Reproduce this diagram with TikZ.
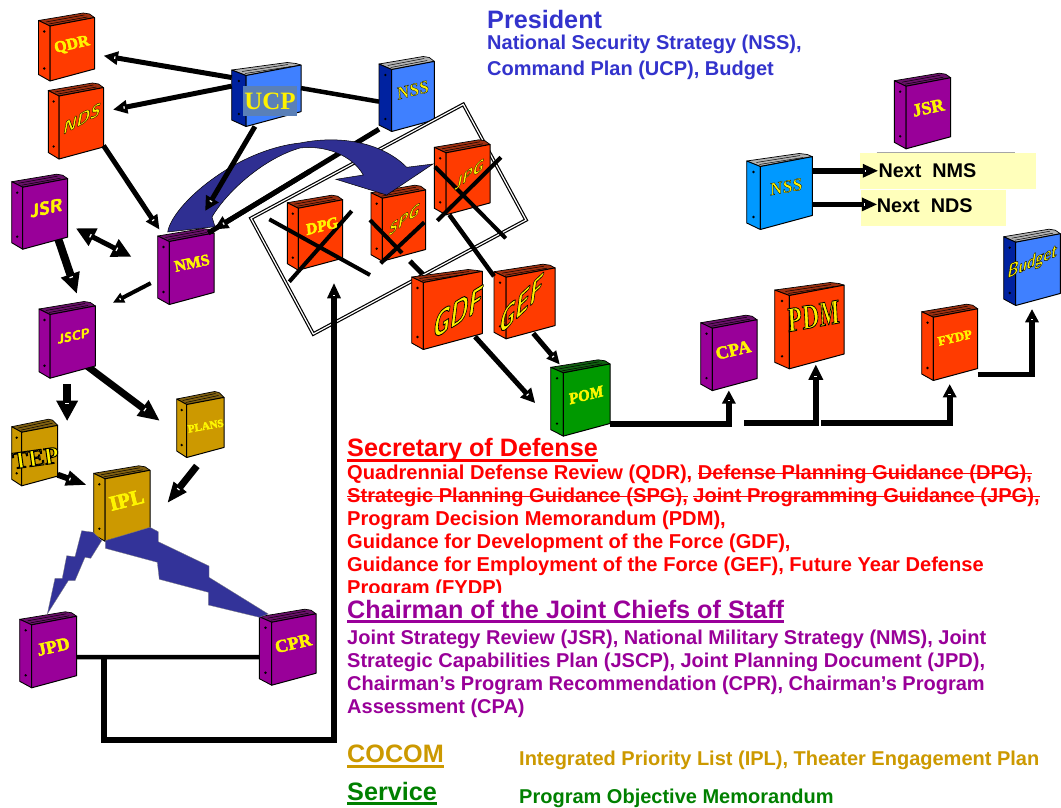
\documentclass[tikz,border=0pt]{standalone}
\usepackage{fontspec}
\usepackage{tikz}
\usetikzlibrary{arrows.meta}
\setmainfont{Liberation Sans}
\newfontfamily\bookserif{Liberation Serif}
\definecolor{bookorange}{HTML}{FF3B00}
\definecolor{orangepage}{HTML}{A03010}
\definecolor{bookpurple}{HTML}{990099}
\definecolor{purplepage}{HTML}{6A106A}
\definecolor{bookblue}{HTML}{3F80FF}
\definecolor{bluespine}{HTML}{0022A0}
\definecolor{bookcyan}{HTML}{0099FF}
\definecolor{bookgold}{HTML}{CC9900}
\definecolor{goldpage}{HTML}{806010}
\definecolor{bookgreen}{HTML}{009900}
\definecolor{greenpage}{HTML}{106010}
\definecolor{flashblue}{HTML}{333399}
\definecolor{curveblue}{HTML}{2F2F92}
\definecolor{presblue}{HTML}{3333CC}
\definecolor{servgreen}{HTML}{008000}
\definecolor{notepaper}{HTML}{FFFFBB}
\definecolor{ucpgrey}{HTML}{5A80B8}
\pgfdeclarelayer{bg}
\pgfdeclarelayer{back}
\pgfsetlayers{bg,back,main}
% arrow head with a white mark near its base
\pgfdeclarearrow{
    name=Notched,
    parameters={\the\pgfarrowlength,\the\pgfarrowwidth},
    setup code={
        \pgfarrowssettipend{\pgfarrowlength}
        \pgfarrowssetlineend{1pt}
        \pgfarrowssetvisualbackend{0pt}
        \pgfarrowssetbackend{0pt}
        \pgfarrowssavethe\pgfarrowlength
        \pgfarrowssavethe\pgfarrowwidth
    },
    drawing code={
        \pgfpathmoveto{\pgfqpoint{0pt}{.5\pgfarrowwidth}}
        \pgfpathlineto{\pgfqpoint{\pgfarrowlength}{0pt}}
        \pgfpathlineto{\pgfqpoint{0pt}{-.5\pgfarrowwidth}}
        \pgfpathclose
        \pgfusepathqfill
        \pgfsetfillcolor{white}
        \pgfpathrectangle{\pgfqpoint{2.4pt}{-.09\pgfarrowwidth}}{\pgfqpoint{1.2pt}{.18\pgfarrowwidth}}
        \pgfusepathqfill
    },
    defaults={length=14pt,width=14pt}
}
% text with a black rim
\newcommand{\rim}[2]{\special{pdf:code 2 Tr #1 w 0 0 0 RG}#2\special{pdf:code 0 Tr}}
% text made a little heavier
\newcommand{\fat}[2]{\special{pdf:code 2 Tr #1 w 1 1 0 RG}#2\special{pdf:code 0 Tr}}
% text with a line through it
\newcommand{\strike}[1]{\leavevmode\setbox0=\hbox{#1}\rlap{\rule[5.6pt]{\wd0}{1.4pt}}\box0\relax}
% name, left, top, spine width, front width, height, front, spine, pages
\newcommand{\binder}[9]{
    \filldraw[#9, draw=black, line width=.7pt, line join=round] (#2,#3) -- ({#2+.8*(#4+#5)},{#3-7.5}) -- ({#2+#4+#5-5},{#3-6.5}) -- ({#2+#4+#5},{#3+5.5-.19*#5}) -- ({#2+#4},{#3+5.5}) -- cycle;
    \draw[black, line width=.5pt] ({#2+#4-4},{#3+1.5}) -- ({#2+.8*(#4+#5)+1},{#3-5.5});
    \draw[black, line width=.5pt] ({#2+#4-1},{#3+3.5}) -- ({#2+.8*(#4+#5)+4},{#3-3.5});
    \filldraw[#8, draw=black, line width=.9pt, line join=round] (#2,#3) -- ({#2+#4},{#3+5.5}) -- ({#2+#4},{#3+5.5+#6}) -- (#2,{#3+#6-1}) -- cycle;
    \filldraw[#7, draw=black, line width=1pt, line join=round] ({#2+#4},{#3+5.5}) -- ({#2+#4+#5},{#3+5.5-.19*#5}) -- ({#2+#4+#5},{#3+5.5+#6-.27*#5}) -- ({#2+#4},{#3+5.5+#6}) -- cycle;
    \fill[black] ({#2+#4/2},{#3+11}) circle (1.3);
    \fill[black] ({#2+#4/2},{#3+#6-7}) circle (1.3);
    \node[bookbox, minimum width={(#4+#5)*1pt}, minimum height={(#6+8.5)*1pt}] (#1) at ({#2+(#4+#5)/2},{#3+1.25+#6/2}) {};
}
\tikzset{
    bookbox/.style={inner sep=0, outer sep=0, draw=none},
    rmtxt/.style={text=yellow, inner sep=0, font=\bookserif\bfseries\fontsize{#1}{#1}\selectfont},
    itxt/.style={text=yellow, inner sep=0, font=\bookserif\bfseries\itshape\fontsize{#1}{#1}\selectfont},
    sftxt/.style={text=yellow, inner sep=0, font=\sffamily\bfseries\itshape\fontsize{#1}{#1}\selectfont},
    arr/.style n args={3}{line width=#1pt, ->, >={Notched[length=#2pt,width=#3pt]}},
    plain/.style={line width=#1pt},
    stroke/.style={line width=4pt, black},
    head/.style={inner sep=0, anchor=north west, text height=18pt, text depth=3pt, font=\bfseries\fontsize{25.2}{25.2}\selectfont, text=#1},
    body/.style={inner sep=0, anchor=north west, align=left, font=\bfseries\fontsize{20}{23}\selectfont, text=#1}
}
\begin{document}
\begin{tikzpicture}[x=1pt, y=-1pt]
    \useasboundingbox (0,0) rectangle (1061,808);
    \begin{pgfonlayer}{bg}
        \fill[white] (0,0) rectangle (1061,808);
    \end{pgfonlayer}

    % notes on the right
    \node[fill=notepaper, minimum width=175.7pt, minimum height=36pt, inner sep=0] (nextnmsbox) at (947.85,171.3) {};
    \node[fill=notepaper, minimum width=144.7pt, minimum height=35.7pt, inner sep=0] (nextndsbox) at (933.35,207.85) {};
    \draw[gray!70, line width=.7pt] (876.7,152.3) -- (1015,152.3);

    % frame round the old guidance
    \coordinate (frametl) at (251,218.3);
    \coordinate (frametr) at (463.3,104.3);
    \coordinate (framebr) at (526,220);
    \coordinate (framebl) at (313.3,334);

    % books
    \binder{qdr}{38.5}{20.5}{11.5}{44.5}{55}{bookorange}{bookorange}{orangepage}
    \binder{nds}{48.3}{90.5}{10.7}{44.5}{63}{bookorange}{bookorange}{orangepage}
    \binder{ucp}{231.7}{70}{14.3}{55}{51}{bookblue}{bluespine}{gray!60}
    \binder{nsstop}{379}{64}{12.7}{42.6}{62}{bookblue}{bluespine}{gray!60}
    \binder{jsrleft}{11.7}{181.7}{11}{45}{62}{bookpurple}{bookpurple}{purplepage}
    \binder{nms}{157.7}{236}{11.6}{44.7}{63}{bookpurple}{bookpurple}{purplepage}
    \binder{jscp}{39}{309}{11}{45.3}{63.7}{bookpurple}{bookpurple}{purplepage}
    \binder{plans}{176.7}{399}{10}{37.3}{53}{bookgold}{bookgold}{goldpage}
    \binder{tep}{11.7}{426.7}{10}{36}{53.6}{bookgold}{bookgold}{goldpage}
    \binder{ipl}{93.7}{473.3}{11.3}{45}{62.4}{bookgold}{bookgold}{goldpage}
    \binder{jpd}{19.7}{619.3}{12}{45}{63}{bookpurple}{bookpurple}{purplepage}
    \binder{cpr}{259.3}{616.7}{12.4}{44.3}{63}{bookpurple}{bookpurple}{purplepage}
    \binder{cpa}{700.7}{322.7}{11.6}{44.7}{62.4}{bookpurple}{bookpurple}{purplepage}
    \binder{pdm}{774.7}{290}{14.6}{54.7}{73.3}{bookorange}{bookorange}{orangepage}
    \binder{fydp}{921.7}{311.7}{11.6}{44.4}{63.3}{bookorange}{bookorange}{orangepage}
    \binder{budget}{1003.7}{236.7}{12}{44.6}{63.3}{bookblue}{bluespine}{gray!60}
    \binder{jsrtop}{894.3}{80.7}{11.7}{44.7}{62.6}{bookpurple}{bookpurple}{purplepage}
    \binder{nssright}{746.7}{161}{13.6}{52}{63}{bookcyan}{bookcyan}{gray!60}

    % lines that pass behind the frame and the curve
    \draw[plain=5] (nsstop.230) -- (nms.58);
    \draw[double=white, double distance=1.2pt, line width=1.2pt, draw=black] (frametl) -- (frametr) -- (framebr) -- (framebl) -- cycle;
    \draw[plain=4.5] (ucp.14) -- (nsstop.191);

    % books inside the frame, and those below it
    \binder{dpg}{287.3}{202.7}{11}{44.4}{62}{bookorange}{bookorange}{orangepage}
    \binder{spg}{371}{192.7}{11.3}{43.4}{63}{bookorange}{bookorange}{orangepage}
    \binder{jpg}{434.3}{147.3}{11.7}{44}{62}{bookorange}{bookorange}{orangepage}
    \binder{gdf}{411.7}{277}{11.6}{59}{67}{bookorange}{bookorange}{orangepage}
    \binder{gef}{494}{271.7}{12}{49}{61.6}{bookorange}{bookorange}{orangepage}
    \binder{pom}{550.7}{367.3}{12.6}{46.7}{63.3}{bookgreen}{bookgreen}{greenpage}

    % the curved arrow
    \filldraw[curveblue, draw=black, line width=.5pt] (167.7,232) .. controls (172,205) and (235,150) .. (300,143) .. controls (345,134) and (385,145) .. (406.7,167.3) -- (433,164) -- (386.7,195) -- (336,179.3) -- (363.3,175) .. controls (352,155) and (325,145) .. (300,148) .. controls (265,158) and (228,190) .. (212,217) -- (215,226.7) -- cycle;

    % flashes from the priority list
    \filldraw[flashblue, draw=black!50, line width=.3pt] (81.7,530.7) -- (93.3,532.3) -- (101.7,540.7) -- (90.7,558.3) -- (85,557.3) -- (75,580.7) -- (68.3,580.7) -- (47.3,614) -- (55,578.3) -- (62.3,578.3) -- (66.7,555.7) -- (75,556.7) -- cycle;
    \filldraw[flashblue, draw=black!50, line width=.3pt] (150,527.3) -- (158.3,531.7) -- (158.3,541.7) -- (209,566) -- (209,577.3) -- (268.3,614) -- (259.3,617.3) -- (208.3,605) -- (208.3,592.3) -- (159.3,579.3) -- (157.3,562.3) -- (105.3,548.3) -- (105.3,540.7) -- cycle;

    % crosses
    \draw[stroke] (269.3,219.3) -- (370,275);
    \draw[stroke] (351.7,211) -- (289.3,281.7);
    \draw[stroke] (370,220) -- (402,253);
    \draw[stroke] (424.3,222.3) -- (380.7,263.3);
    \draw[stroke] (435,166.7) -- (505.7,238.3);
    \draw[stroke] (501,157.3) -- (437.3,220.7);

    % connectors
    \begin{pgfonlayer}{back}
        \draw[arr={8}{20}{20}, shorten <=-11.6pt, shorten >=13.4pt] (jsrleft.-58) -- (jscp.69);
        \draw[arr={7}{21}{20}, shorten <=-11.6pt, shorten >=21.7pt] (jscp.-47) -- (plans.196);
        \draw[arr={5}{14}{15}, shorten <=-10.8pt, shorten >=23.4pt] (gdf.-43) -- (pom.214);
        \draw[arr={5}{13}{13}, shorten <=-7.2pt] (gef.-69) -- (pom.120);
    \end{pgfonlayer}
    \draw[arr={5}{14}{14}, shorten >=9.6pt] (ucp.151) -- (qdr.-10);
    \draw[arr={5}{14}{14}, shorten >=10pt] (ucp.163) -- (nds.23);
    \draw[arr={5}{14}{15}, shorten >=25.9pt] (ucp.249) -- (nms.80.5);
    \draw[arr={5}{14}{14}, shorten >=4.4pt] (nds.-39) -- (nms.124);
    \draw[arr={5}{14}{14}, shorten >=7pt, shorten <=80pt] (nsstop.230) -- (nms.58);
    \draw[arr={5}{19}{20}, <->, shorten <=9.6pt, shorten >=29.9pt] (jsrleft.-20) -- (nms.183);
    \draw[arr={4}{11}{11}, shorten <=7.8pt, shorten >=20pt] (nms.201) -- (jscp.47);
    \coordinate (tepin) at (67.15,420.7);
    \draw[arr={8}{20}{22}, shorten <=6pt] (jscp.south) -- (tepin);
    \draw[arr={6}{20}{16}, shorten >=8.2pt] (tep.-41) -- (ipl.147);
    \draw[arr={7}{20}{17}, shorten <=10.8pt, shorten >=28.5pt] (plans.-84) -- (ipl.-34.5);
    \draw[plain=4.5] (jpd.-10.4) -- coordinate[pos=.15] (looptap) (cpr.195.7);
    \coordinate (loopbase) at (334,740);
    \coordinate (loopend) at (334,283.3);
    \draw[arr={5.5}{15}{14}] (looptap) |- (loopbase) -- (loopend);
    \draw[plain=4.5] (jpg.250) -- (gef.138);
    \draw[plain=5] (spg.-72) -- (gdf.123);
    \draw[arr={6}{13}{14}] (pom.-39) -| (cpa.south);
    \coordinate (pdmfrom) at (744,422.7);
    \draw[arr={6}{15}{15}, shorten >=-4pt] (pdmfrom) -| (pdm.-81);
    \coordinate (fydpfrom) at (821,422.7);
    \draw[arr={6}{13}{14}, shorten >=3.8pt] (fydpfrom) -| (fydp.south);
    \draw[arr={5.5}{13}{14}, shorten >=3.8pt] (fydp.-47) -| (budget.south);
    \draw[arr={5.5}{15}{14}, shorten >=-18pt] (nssright.35) -- (nssright.35 -| nextnmsbox.west);
    \draw[arr={5.5}{15}{14}, shorten >=-16pt] (nssright.-18) -- (nssright.-18 -| nextndsbox.west);

    % texts on the books
    \node[rmtxt=16, rotate=13] (qdrtxt) at (72,45) {\fat{.4}{QDR}};
    \node[sftxt=17, yslant=.55] (ndstxt) at (81,119) {\rim{.35}{NDS}};
    \node[fill=ucpgrey, text=yellow, inner sep=0, minimum width=54pt, minimum height=30pt, font=\bookserif\bfseries\fontsize{25}{25}\selectfont] (ucptxt) at (270,101) {UCP};
    \node[itxt=18, rotate=14] (nsstoptxt) at (412.7,90) {\rim{.25}{NSS}};
    \node[sftxt=18, rotate=12] (jsrlefttxt) at (45,208) {\fat{.4}{JSR}};
    \node[rmtxt=16, rotate=12] (nmstxt) at (192,263) {\fat{.4}{NMS}};
    \node[sftxt=13, rotate=12] (jscptxt) at (72.7,336) {\fat{.25}{JSCP}};
    \node[rmtxt=11, rotate=10] (planstxt) at (205.7,426) {\fat{.25}{PLANS}};
    \node[rmtxt=24, rotate=8] (teptxt) at (35.7,458) {\rim{1}{TEP}};
    \node[rmtxt=21, rotate=14] (ipltxt) at (126.7,500) {\fat{.5}{IPL}};
    \node[rmtxt=18, rotate=13] (jpdtxt) at (53.3,646.7) {\fat{.4}{JPD}};
    \node[rmtxt=18, rotate=13] (cprtxt) at (293.3,643.3) {\fat{.4}{CPR}};
    \node[itxt=16, rotate=14] (dpgtxt) at (321.7,226) {\fat{.4}{DPG}};
    \node[sftxt=15, yslant=.75] (spgtxt) at (403.3,220) {\rim{.25}{SPG}};
    \node[sftxt=15, yslant=.75] (jpgtxt) at (468.3,175) {\rim{.25}{JPG}};
    \node[sftxt=23, yslant=.62, yscale=1.5] (gdftxt) at (456.7,312.7) {\rim{.6}{GDF}};
    \node[sftxt=22, yslant=.95, yscale=1.4] (geftxt) at (520,305) {\rim{.6}{GEF}};
    \node[itxt=16, rotate=14] (pomtxt) at (586,395) {\fat{.4}{POM}};
    \node[rmtxt=18, rotate=13] (cpatxt) at (733.3,350) {\fat{.4}{CPA}};
    \node[itxt=24, rotate=10, yscale=1.45] (pdmtxt) at (813.3,316) {\rim{.6}{PDM}};
    \node[rmtxt=13, rotate=13] (fydptxt) at (955,337.7) {\fat{.3}{FYDP}};
    \node[sftxt=15, yslant=.45, yscale=1.25] (budgettxt) at (1031.7,262.7) {\rim{.3}{Budget}};
    \node[rmtxt=18, rotate=12] (jsrtoptxt) at (928.3,107.7) {\fat{.4}{JSR}};
    \node[itxt=18, rotate=10] (nssrighttxt) at (786,186.7) {\rim{.25}{NSS}};

    % texts
    \node[inner sep=0, anchor=west, font=\bfseries\fontsize{19.8}{19.8}\selectfont] (nextnms) at (878.3,170.7) {Next\ \ NMS};
    \node[inner sep=0, anchor=west, font=\bfseries\fontsize{19.8}{19.8}\selectfont] (nextnds) at (876.7,206) {Next\ \ NDS};

    \node[inner sep=0, anchor=north west, text=presblue, font=\bfseries\fontsize{25.2}{25.2}\selectfont] (president) at (487,10.5) {President};
    \node[inner sep=0, anchor=north west, align=left, text=presblue, font=\bfseries\fontsize{20}{26.5}\selectfont] (presbody) at (487,34.5) {National Security Strategy (NSS),\\Command Plan (UCP), Budget};

    \node[head=red] (sechead) at (347,438.7) {Secretary of Defense};
    \draw[red, line width=3pt] (sechead.south west) -- (sechead.south east);
    \node[body=red, font=\bfseries\fontsize{20.1}{23}\selectfont] (secbody) at (347,465) {Quadrennial Defense Review (QDR), \strike{Defense Planning Guidance (DPG),}\\\strike{Strategic Planning Guidance (SPG),} \strike{Joint Programming Guidance (JPG),}\\Program Decision Memorandum (PDM),\\Guidance for Development of the Force (GDF),\\Guidance for Employment of the Force (GEF), Future Year Defense\\Program (FYDP)};
    \fill[white] (340,593.3) rectangle (1000,625);

    \node[head=bookpurple] (chairhead) at (347,600) {Chairman of the Joint Chiefs of Staff};
    \draw[bookpurple, line width=3pt] (chairhead.south west) -- (chairhead.south east);
    \node[body=bookpurple] (chairbody) at (347,629.5) {Joint Strategy Review (JSR), National Military Strategy (NMS), Joint\\Strategic Capabilities Plan (JSCP), Joint Planning Document (JPD),\\Chairman’s Program Recommendation (CPR), Chairman’s Program\\Assessment (CPA)};

    \node[head=bookgold] (cocomhead) at (347,744.7) {COCOM};
    \draw[bookgold, line width=3pt] (cocomhead.south west) -- (cocomhead.south east);
    \node[body=bookgold] (cocombody) at (519,750.5) {Integrated Priority List (IPL), Theater Engagement Plan};

    \node[head=servgreen] (servhead) at (347,782) {Service};
    \draw[servgreen, line width=3pt] (servhead.south west) -- (servhead.south east);
    \node[body=servgreen] (servbody) at (519,788.5) {Program Objective Memorandum};
\end{tikzpicture}
\end{document}
